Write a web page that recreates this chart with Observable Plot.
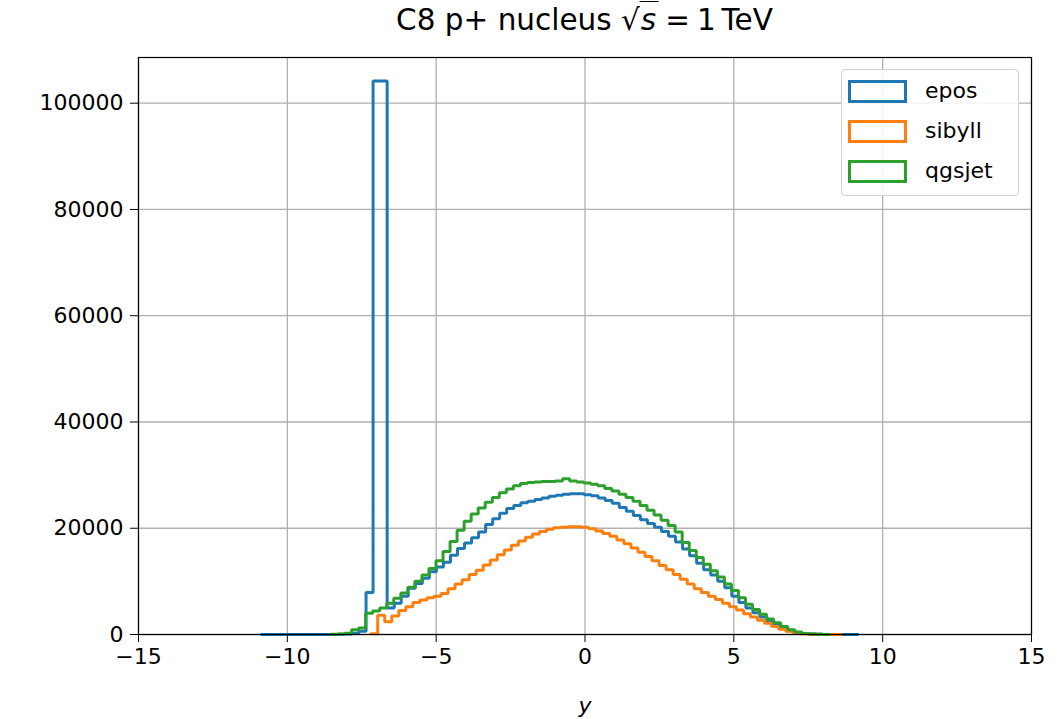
<!DOCTYPE html>
<html>
<head>
<meta charset="utf-8">
<script src="https://cdn.jsdelivr.net/npm/d3@7"></script>
<script src="https://cdn.jsdelivr.net/npm/@observablehq/plot@0.6"></script>
<style>
  body { margin: 0; background: #fff; font-family: "DejaVu Sans", sans-serif; }
  #wrap { position: relative; width: 1060px; height: 719px; }
  #title { height: 50px; position: relative; }
  #title span.t { position: absolute; left: 584.5px; top: 3px; transform: translateX(-50%); font-size: 29.5px; white-space: nowrap; color: #000; }
  .ov { border-top: 1.5px solid #000; padding-top: 1px; padding-left: 1px; padding-right: 2px; }
  .eq { margin: 0 7px; }
  #legend { position: absolute; left: 841px; top: 69px; width: 178px; height: 127px; border: 1px solid #d0d0d0; border-radius: 4px; background: rgba(255,255,255,0.85); box-sizing: border-box; }
  .row { position: absolute; left: 0; height: 23px; }
  .patch { position: absolute; left: 6px; width: 59px; height: 23px; box-sizing: border-box; border: 3px solid; }
  .lab { position: absolute; left: 83px; top: -2px; font-size: 22px; color: #000; line-height: 26px; }
</style>
</head>
<body>
<div id="wrap">
  <div id="title"><span class="t">C8 p+ nucleus √<span class="ov"><i>s</i></span><span class="eq">=</span>1&thinsp;TeV</span></div>
  <div id="chart"></div>
  <div id="legend"></div>
</div>
<script>
// ---- data ----
const seriesNames = ["epos", "sibyll", "qgsjet"];
const seriesColors = ["#1f77b4", "#ff7f0e", "#2ca02c"];
const binWidth = 0.2363;
const eposStart = -10.9;
const sibyllStart = -7.2;
const qgsjetStart = -8.55;
const eposCounts = [
  0, 0, 0, 0, 0, 0, 0, 0, 5, 10, 20, 50, 100, 250, 600,
  7900, 104200, 104200, 5000, 5900, 7200, 8700, 9600, 10600, 11800, 12700, 13600, 14900, 16200, 17200,
  18200, 19300, 20700, 21800, 22800, 23700, 24300, 24800, 25100, 25400, 25700, 26000, 26200, 26400, 26500,
  26500, 26300, 26100, 25700, 25200, 24700, 23900, 23200, 22400, 21600, 20900, 20200, 19400, 18500, 17400,
  16100, 14800, 13400, 12200, 11200, 10000, 8800, 7200, 6000, 5000, 4100, 3300, 2500, 1800, 1200,
  700, 350, 180, 90, 40, 20, 10, 5, 2, 1
];
const sibyllCounts = [
  150, 3600, 2400, 3500, 4500, 5200, 6000, 6500, 6900, 7200, 7700, 8600, 9500, 10300, 11300,
  12100, 13100, 14000, 15000, 15900, 16800, 17600, 18300, 18900, 19400, 19800, 20100, 20200, 20300, 20300,
  20200, 19900, 19500, 19000, 18500, 17800, 17100, 16300, 15500, 14700, 13900, 13000, 12200, 11300, 10400,
  9500, 8600, 7900, 7200, 6600, 5900, 5200, 4600, 3900, 3300, 2700, 2100, 1500, 1000, 600,
  300, 150, 70, 30, 15, 8, 3
];
const qgsjetCounts = [
  30, 80, 250, 900, 1200, 4000, 4400, 5000, 5900, 6800, 7800, 8900, 10000, 11200, 12400,
  13900, 15600, 17500, 19600, 21300, 22700, 23800, 24900, 25800, 26700, 27400, 28000, 28400, 28600, 28700,
  28800, 28800, 28900, 29300, 28900, 28700, 28500, 28300, 28000, 27500, 27000, 26400, 25800, 25100, 24300,
  23400, 22500, 21500, 20500, 19300, 17300, 15800, 14500, 13200, 12000, 10800, 9500, 8300, 6900, 5700,
  4700, 3800, 2900, 2200, 1500, 900, 450, 200, 80, 30, 10
];
const xTicks = [-15, -10, -5, 0, 5, 10, 15];
const yTicks = [0, 20000, 40000, 60000, 80000, 100000];
const xDomain = [-15, 15];
const yDomain = [0, 108600];

// ---- build step outlines ----
function stepPoints(name, start, counts) {
  const pts = [{name, x: start, y: 0}];
  counts.forEach((c, k) => {
    pts.push({name, x: start + binWidth * k, y: c});
    pts.push({name, x: start + binWidth * (k + 1), y: c});
  });
  pts.push({name, x: start + binWidth * counts.length, y: 0});
  return pts;
}
const series = [
  stepPoints("epos", eposStart, eposCounts),
  stepPoints("sibyll", sibyllStart, sibyllCounts),
  stepPoints("qgsjet", qgsjetStart, qgsjetCounts)
];

const fmtMinus = d => (d < 0 ? "\u2212" + Math.abs(d) : String(d));

const plot = Plot.plot({
  width: 1060,
  height: 669,
  marginLeft: 138,
  marginRight: 29,
  marginTop: 7,
  marginBottom: 85,
  style: { fontFamily: "DejaVu Sans, sans-serif", fontSize: "22px", color: "#000", background: "#fff" },
  x: { domain: xDomain },
  y: { domain: yDomain },
  marks: [
    Plot.gridX(xTicks, { stroke: "#b0b0b0", strokeOpacity: 1, strokeWidth: 1.3 }),
    Plot.gridY(yTicks, { stroke: "#b0b0b0", strokeOpacity: 1, strokeWidth: 1.3 }),
    ...series.map((pts, i) => Plot.line(pts, {
      x: "x", y: "y", stroke: seriesColors[i], strokeWidth: 3, strokeLinejoin: "miter", strokeLinecap: "butt"
    })),
    Plot.frame({ stroke: "#000", strokeWidth: 1.2 }),
    Plot.axisX(xTicks, { tickSize: 8, tickPadding: 6, tickFormat: fmtMinus, label: null, stroke: "#000" }),
    Plot.axisY(yTicks, { tickSize: 8, tickPadding: 7, tickFormat: d3.format("d"), label: null, stroke: "#000" }),
    Plot.text(["y"], { frameAnchor: "bottom", lineAnchor: "middle", dy: 71, text: d => d, fontStyle: "italic", fontSize: 22, fill: "#000" })
  ]
});
document.getElementById("chart").appendChild(plot);

// ---- legend ----
const legend = document.getElementById("legend");
const rowTops = [10, 50, 90];
seriesNames.forEach((n, i) => {
  const row = document.createElement("div");
  row.className = "row";
  row.style.top = rowTops[i] + "px";
  row.innerHTML = `<div class="patch" style="border-color:${seriesColors[i]}"></div><div class="lab">${n}</div>`;
  legend.appendChild(row);
});
</script>
</body>
</html>
